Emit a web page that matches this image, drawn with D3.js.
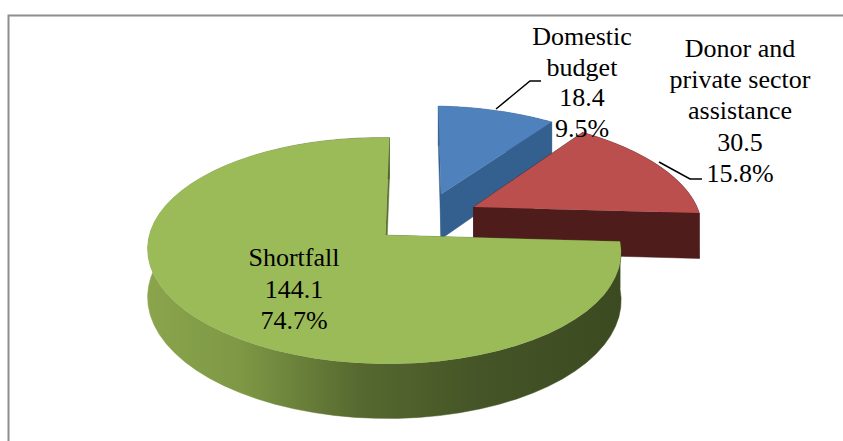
<!DOCTYPE html>
<html>
<head>
<meta charset="utf-8">
<script src="https://cdn.jsdelivr.net/npm/d3@7"></script>
<style>
  html, body { margin: 0; padding: 0; background: #fff; }
  text { font-family: "Liberation Serif", serif; fill: #000; }
</style>
</head>
<body>
<svg id="chart" width="843" height="441"></svg>
<script>
// Funding sources and their amounts
const categories = ["Domestic budget", "Donor and private sector assistance", "Shortfall"];
const amounts = [18.4, 30.5, 144.1];
const nameLines = [["Domestic", "budget"], ["Donor and", "private sector", "assistance"], ["Shortfall"]];
const topColors = ["#4f81bd", "#bb4f4d", "#9bbb59"];
const wallColors = ["#34608f", "#4f1c1c", "#5d7233"];

const svg = d3.select("#chart");
const total = d3.sum(amounts);
const percent = d3.format(".1%");

// Planar perspective of the pie disc: world units are pie radii, y grows toward the viewer
const view = {
  cx: 425.5, cy: 217.6, a: 229, b: 1, d: 4, e: 106,
  c1: 0.002, c2: -0.135, depth: 46, explode: 0.24
};
function project(u, v, z = 0) {
  const w = 1 + view.c1 * u + view.c2 * v;
  return [
    view.cx + (view.a * u + view.b * v) / w,
    view.cy + (view.d * u + view.e * v) / w + z * view.depth / w
  ];
}

const slices = d3.pie().sort(null).value(d => d)(amounts);
const line = d3.line();

// Frame along the top and left of the chart area
svg.append("path")
  .attr("d", "M8.5,441V15.5H843")
  .attr("fill", "none")
  .attr("stroke", "#8e8e8e")
  .attr("stroke-width", 2);

// Shading along the rim of the large slice
const defs = svg.append("defs");
const rim = defs.append("linearGradient")
  .attr("id", "rimShade")
  .attr("gradientUnits", "userSpaceOnUse")
  .attr("x1", 145).attr("x2", 620).attr("y1", 0).attr("y2", 0);
[[0, "#8aa54c"], [0.2, "#7e9845"], [0.45, "#56692f"], [0.7, "#455527"], [1, "#3b4a20"]]
  .forEach(([o, c]) => rim.append("stop").attr("offset", o).attr("stop-color", c));

const slicesLayer = svg.append("g");
slices.forEach((s, i) => {
  const mid = (s.startAngle + s.endAngle) / 2;
  const ox = Math.sin(mid) * view.explode;
  const oy = -Math.cos(mid) * view.explode;
  const rimAt = t => [ox + Math.sin(t), oy - Math.cos(t)];
  const angles = d3.range(0, 61).map(k => s.startAngle + (s.endAngle - s.startAngle) * k / 60);

  const wall = (pts, fill) => slicesLayer.append("path")
    .attr("d", line(pts.map(p => project(p[0], p[1], 0))
      .concat(pts.slice().reverse().map(p => project(p[0], p[1], 1)))) + "Z")
    .attr("fill", fill).attr("stroke", fill).attr("stroke-width", 0.5);

  // Cut faces first, then the outer rim, then the top surface
  wall([[ox, oy], rimAt(s.startAngle)], wallColors[i]);
  wall([[ox, oy], rimAt(s.endAngle)], wallColors[i]);
  wall(angles.map(rimAt), i === 2 ? "url(#rimShade)" : wallColors[i]);

  const top = [project(ox, oy)].concat(angles.map(t => {
    const p = rimAt(t);
    return project(p[0], p[1]);
  }));
  slicesLayer.append("path")
    .attr("d", line(top) + "Z")
    .attr("fill", topColors[i]);
});

// Leader lines from the two small slices to their labels
const leaders = [
  [[496, 109], [530, 81], [541, 81]],
  [[659, 162], [690, 179], [702, 179]]
];
svg.selectAll("path.leader").data(leaders).join("path")
  .attr("class", "leader")
  .attr("d", line)
  .attr("fill", "none")
  .attr("stroke", "#000")
  .attr("stroke-width", 1.5);

// Labels: name, amount, share of the total
const labelAnchors = [
  { x: 582, y: 45, step: 30.6 },
  { x: 740, y: 57, step: 31.2 },
  { x: 294, y: 266, step: 31.7 }
];
amounts.forEach((v, i) => {
  const rows = nameLines[i].concat([String(v), percent(v / total)]);
  const a = labelAnchors[i];
  svg.append("g").selectAll("text").data(rows).join("text")
    .attr("x", a.x)
    .attr("y", (d, k) => a.y + k * a.step)
    .attr("text-anchor", "middle")
    .attr("font-size", 26)
    .text(d => d);
});
</script>
</body>
</html>
